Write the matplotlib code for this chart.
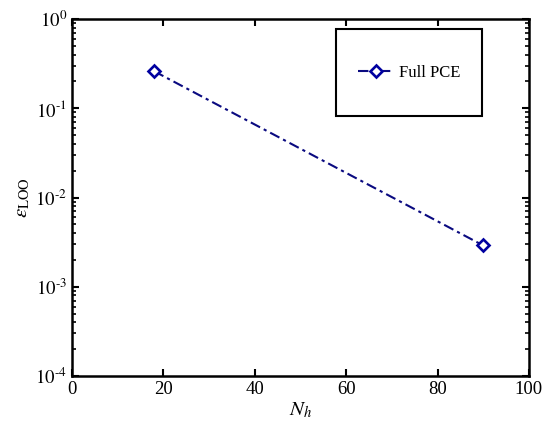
import matplotlib
matplotlib.use("Agg")
import matplotlib.pyplot as plt
from matplotlib.patches import Rectangle
from matplotlib.ticker import LogLocator, NullFormatter, FixedLocator, FuncFormatter
import numpy as np

plt.rcParams['font.family'] = ['Liberation Serif', 'DejaVu Serif']
plt.rcParams['mathtext.fontset'] = 'stix'

# Leave-one-out error of the full PCE versus number of samples
n_h = [18, 90]
eps_loo = [0.26, 0.0029]
series_label = "Full PCE"
x_ticks = [0, 20, 40, 60, 80, 100]

fig = plt.figure(figsize=(5.49, 4.28), dpi=100)
ax = fig.add_axes([0.131, 0.1215, 0.8325, 0.834])

navy = '#0a0a80'
ax.plot(n_h, eps_loo, linestyle=(0, (5, 2, 1.5, 2)), color=navy, linewidth=1.5,
        marker='D', markersize=6, markerfacecolor='white',
        markeredgecolor='#0000a0', markeredgewidth=1.9, label=series_label)

ax.set_yscale('log')
ax.set_xlim(0, 100)
ax.set_ylim(1e-4, 1e0)
ax.xaxis.set_major_locator(FixedLocator(x_ticks))
ax.yaxis.set_major_locator(LogLocator(base=10, numticks=10))
ax.yaxis.set_minor_locator(LogLocator(base=10, subs=range(2, 10), numticks=10))
ax.yaxis.set_minor_formatter(NullFormatter())


def decade_label(v, pos):
    k = int(round(np.log10(v)))
    if k < 0:
        return r'$10^{\text{-}%d}$' % (-k)
    return r'$10^{%d}$' % k


ax.yaxis.set_major_formatter(FuncFormatter(decade_label))

ax.tick_params(which='both', direction='in', top=True, right=True, labelsize=13.5)
ax.tick_params(which='major', length=5, width=1.5)
ax.tick_params(which='minor', length=3, width=1.2)
for s in ax.spines.values():
    s.set_linewidth(1.8)

ax.set_xlabel(r'$N_h$', fontsize=15, labelpad=2)
ax.set_ylabel(r'$\varepsilon_{\mathrm{LOO}}$', fontsize=15, labelpad=2)

# Legend drawn inside a fixed box
box = Rectangle((0.578, 0.728), 0.32, 0.245, transform=ax.transAxes,
                facecolor='white', edgecolor='black', linewidth=1.5, zorder=3)
ax.add_patch(box)
leg = ax.legend(loc='center', bbox_to_anchor=(0.738, 0.85), frameon=False,
                fontsize=12, handlelength=2.2, handletextpad=0.3)
leg.set_zorder(4)

fig.savefig('out.png', dpi=100)
